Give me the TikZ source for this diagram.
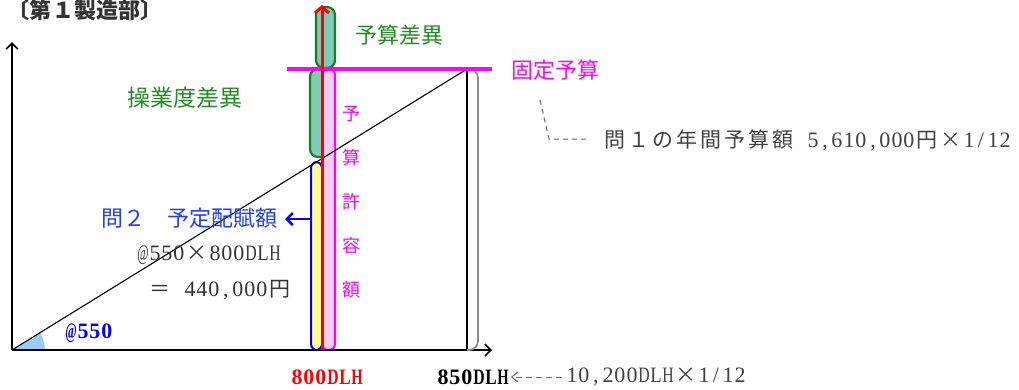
\documentclass[tikz,border=0pt]{standalone}
\usepackage{fontspec}
\usepackage{graphicx}
\setmainfont{Liberation Serif}
\newfontfamily\cjk{Noto Sans CJK JP}
\usetikzlibrary{arrows.meta}
\definecolor{gtext}{HTML}{228B22}
\definecolor{mag}{HTML}{FF00FF}
\definecolor{tealfill}{HTML}{80CBB8}
\definecolor{dgreen}{HTML}{1E7D1E}
\definecolor{pinkfill}{HTML}{FFCCF0}
\definecolor{yellowfill}{HTML}{FFFF99}
\definecolor{wedgeblue}{HTML}{99CCFF}
\definecolor{txtgray}{HTML}{333333}
\definecolor{leadgray}{HTML}{404040}
\definecolor{dashgray}{HTML}{666666}
\definecolor{bluetxt}{HTML}{1E3CFF}
\newdimen\monowd
\def\monoloop#1{\ifx\relax#1\else\monochar{#1}\expandafter\monoloop\fi}
\newcommand\monochar[1]{\setbox0\hbox{#1}\ifdim\wd0>0.95\monowd\makebox[\monowd][c]{\resizebox{0.95\monowd}{\height}{#1}}\else\makebox[\monowd][c]{#1}\fi}
\newcommand\Jt[1]{{\cjk\fontsize{21}{24}\selectfont\monowd=24pt\monoloop#1\relax}}
\newcommand\Lt[1]{{\fontsize{22}{24}\selectfont\monowd=12pt\monoloop#1\relax}}
\begin{document}
\begin{tikzpicture}[x=1pt,y=-1pt,
  lbl/.style={inner sep=0pt,outer sep=0pt},
  goth/.style={lbl,font=\cjk\fontsize{22}{22}\selectfont},
  mincho/.style={lbl,anchor=west},
  axis/.style={line width=1.6pt,-{Straight Barb[length=6pt,width=12pt]}},
  greenbox/.style={draw=dgreen,fill=tealfill,line width=2.2pt,rounded corners=8pt},
]
\useasboundingbox (0,0) rectangle (1019,389);
% coordinates
\coordinate (O) at (12,350);
\coordinate (Ytop) at (12,42);
\coordinate (Xend) at (492,350);
\coordinate (F) at (467,69);
\coordinate (Fb) at (467,350);
\coordinate (Rb) at (322,350);
\coordinate (Rt) at (322,5);
\coordinate (ML) at (287,69);
\coordinate (MR) at (492,69);
\coordinate (BA) at (311,219);
\coordinate (LD1) at (540,100);
\coordinate (LD2) at (549,139);
% wedge
\fill[wedgeblue] (O) -- (45,350) arc[start angle=0,end angle=31.7,radius=33pt] -- cycle;
% boxes
\draw[greenbox] (316,7) rectangle (335,68);
\draw[greenbox] (310,69) rectangle (330,157);
\draw[draw=mag,fill=pinkfill,line width=2pt,rounded corners=6pt] (322,69) rectangle (335,350);
\draw[draw=blue,fill=yellowfill,line width=2pt,rounded corners=6pt] (311,162) rectangle (322,350);
% axes
\draw[axis] (O) -- (Ytop);
\draw[axis] (O) -- (Xend);
% diagonal and verticals
\draw[line width=1.1pt] (O) -- (F);
\draw[line width=2.4pt] (F) -- (Fb);
\draw[gray!90,line width=1.8pt,rounded corners=9pt] (F) -- (478,69) -- (478,350) -- (Fb);
% magenta line
\draw[mag,line width=3.3pt] (ML) -- (MR);
% red arrow
\draw[red,line width=3pt,-{Straight Barb[length=6pt,width=14pt]}] (Rb) -- (Rt);
% texts
\node[lbl,anchor=west,text=txtgray,font=\cjk\bfseries\fontsize{22}{22}\selectfont] (title) at (8,10) {〔第１製造部〕};
\node[goth,text=gtext] (bv) at (399,35) {予算差異};
\node[goth,text=mag] (fb) at (555,70) {固定予算};
\node[goth,text=gtext,font=\cjk\fontsize{23}{23}\selectfont] (ov) at (185,98) {操業度差異};
\node[goth,text=bluetxt] (q2) at (189,218) {問２　予定配賦額};
\node[lbl,text=mag,align=center,font=\cjk\fontsize{18}{44}\selectfont] (bka) at (351,202) {予\\算\\許\\容\\額};
\node[mincho,text=leadgray] (q1) at (603,140) {\Jt{問１の年間予算額}\hspace{12pt}\Lt{5,610,000}\Jt{円×}\Lt{1/12}};
\node[mincho,text=txtgray] (calc1) at (137,255) {\Lt{@550}\Jt{×}\Lt{800DLH}};
\node[mincho,text=txtgray] (calc2) at (148,290) {\Jt{＝}\hspace{12pt}\Lt{440,000}\Jt{円}};
\node[mincho,text=blue,font=\bfseries] (rate) at (65,333) {\Lt{@550}};
\node[lbl,text=red,font=\bfseries] (h800) at (327,377) {\Lt{800DLH}};
\node[mincho,font=\bfseries] (h850) at (437,377) {\Lt{850DLH}};
\node[mincho,text=leadgray] (h10200) at (566,377) {\Lt{10,200DLH}\Jt{×}\Lt{1/12}};
% connectors
\draw[blue,line width=2.5pt,-{Straight Barb[length=6pt,width=12pt]},shorten >=8pt] (BA) -- (q2.east |- BA);
\draw[dashgray,line width=1pt,dash pattern=on 5pt off 4pt] (LD1) -- (LD2) -- ([xshift=-14pt]q1.west |- LD2);
\draw[dashgray,line width=1pt,dash pattern=on 6pt off 4pt,-{Straight Barb[length=6pt,width=10pt]},shorten >=2pt,shorten <=4pt] (h10200.west) -- (h850.east);
\end{tikzpicture}
\end{document}
